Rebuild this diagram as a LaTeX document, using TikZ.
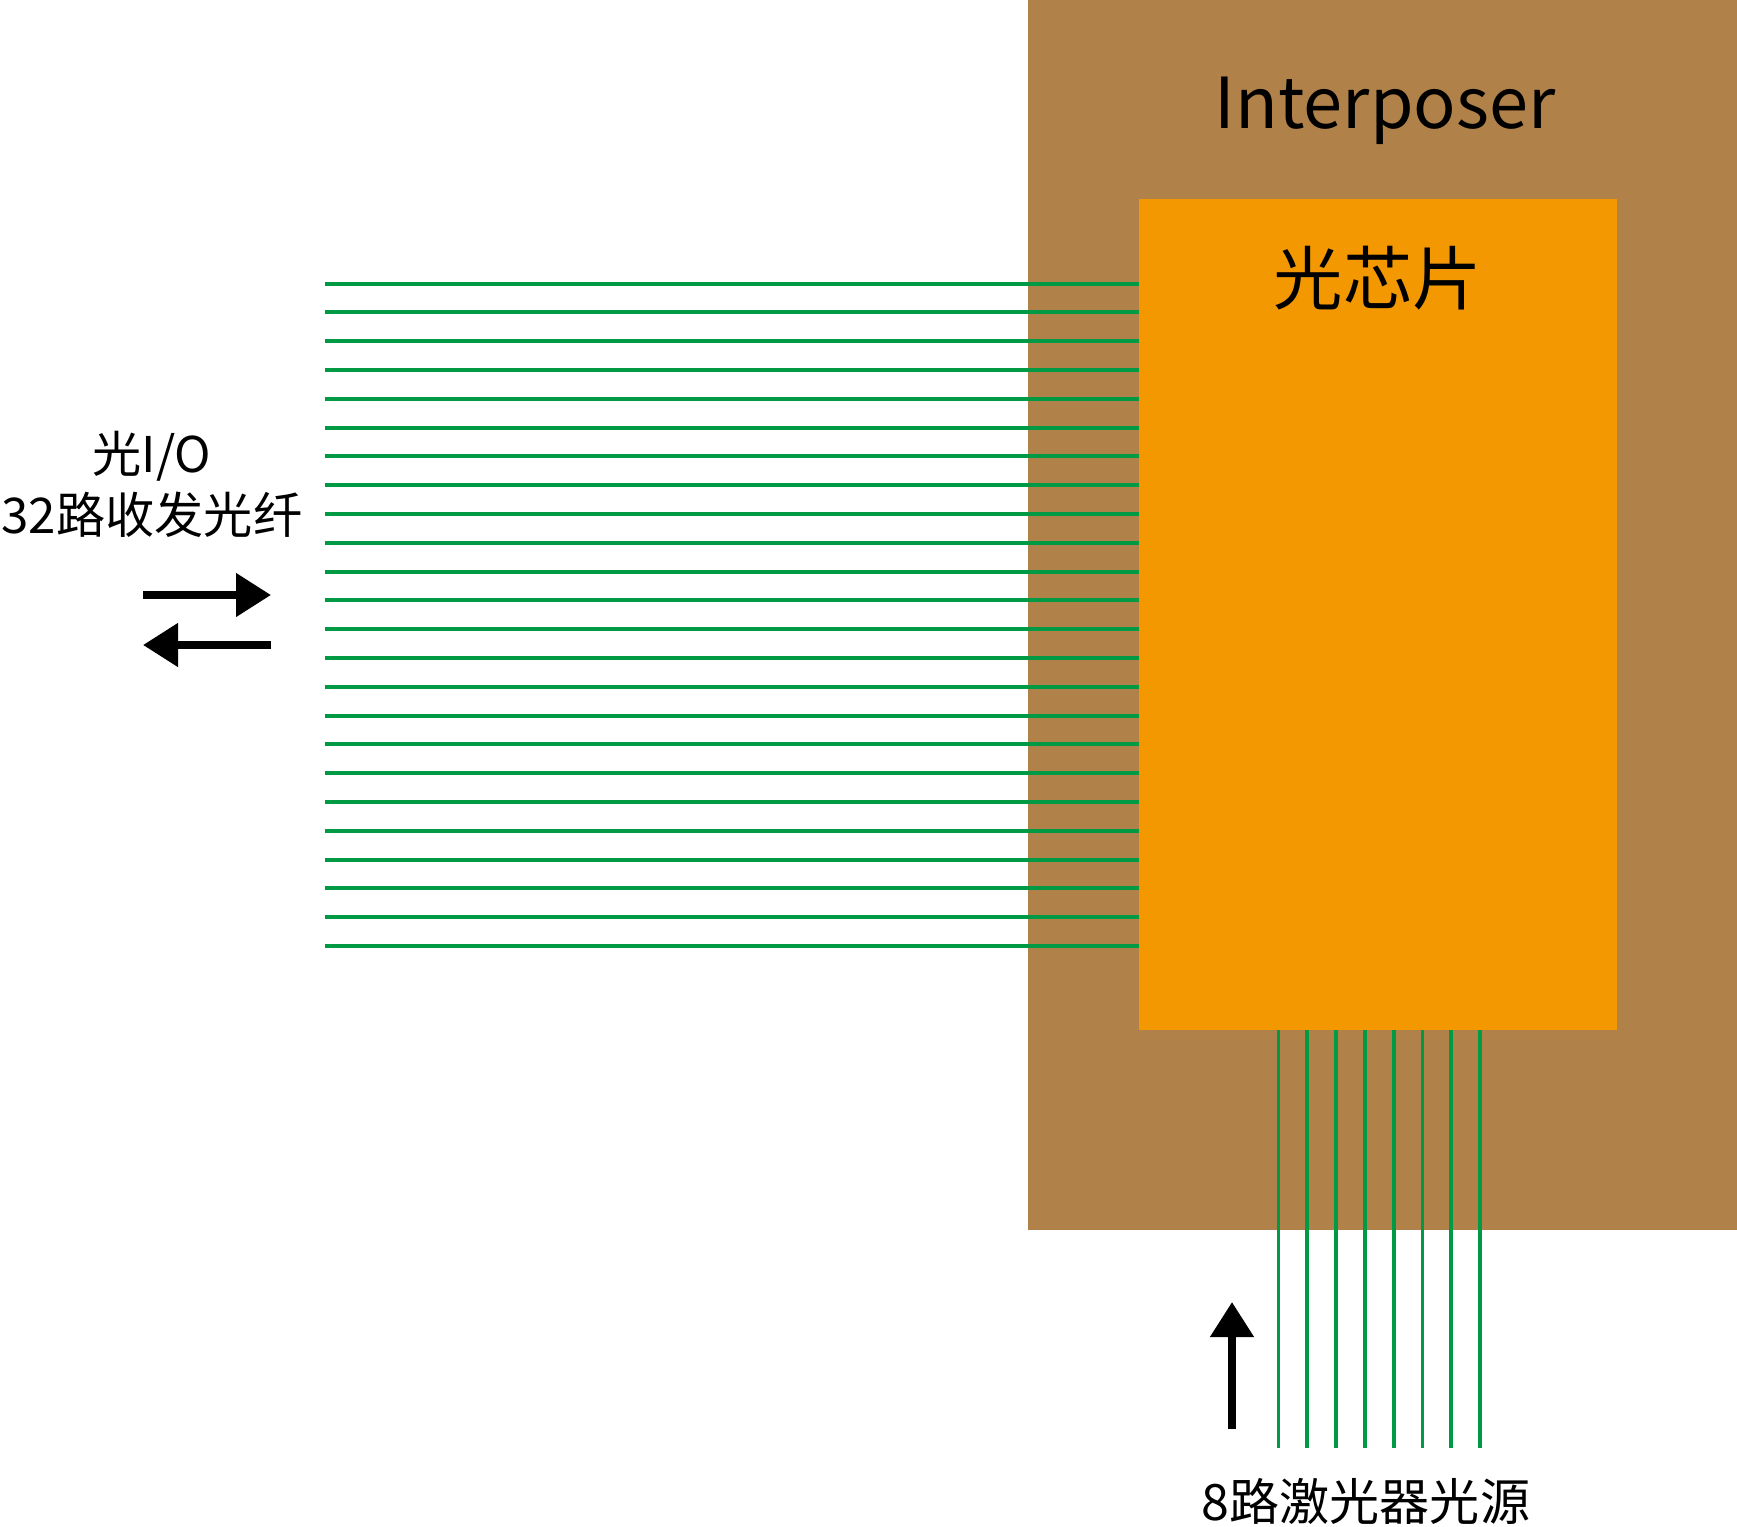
\documentclass[tikz,border=0pt]{standalone}
\usepackage{fontspec}
\setmainfont{Noto Sans CJK SC}
\usepackage{tikz}
\usetikzlibrary{arrows.meta,calc,positioning}
\definecolor{InterBrown}{HTML}{B08149}
\definecolor{ChipOrange}{HTML}{F39800}
\definecolor{FiberGreen}{HTML}{009944}
\definecolor{Ink}{HTML}{000000}

\begin{document}
\begin{tikzpicture}[x=0.2mm,y=-0.2mm,
    fiber/.style={draw=FiberGreen,line width=2.2pt},
    bigarrow/.style={draw=Ink,line width=1.55mm,-{Triangle[length=7mm,width=8.4mm]}},
    label/.style={font=\fontsize{28.5}{35}\selectfont,inner sep=0pt,align=center}]
    \useasboundingbox (0,0) rectangle (1737,1526);
    \node[fill=InterBrown,inner sep=0pt,minimum width=141.8mm,minimum height=246mm] (interposer) at (1382.5,615) {};
    \node[fill=ChipOrange,inner sep=0pt,minimum width=95.6mm,minimum height=166.2mm] (chip) at (1378,614.5) {};
    \node[font=\fontsize{40}{48}\selectfont,inner sep=0pt,anchor=base] (intertext) at (1385,128) {Interposer};
    \node[font=\fontsize{39.5}{46}\selectfont,inner sep=0pt] (chiptext) at (1378,278) {光芯片};
    % 32 fibres into the chip
    \foreach \i in {0,...,23} {
      \coordinate (f\i) at (325,283.6+28.8*\i);
      \draw[fiber] (f\i) -- (f\i -| chip.west);
    }
    % 8 laser inputs from below
    \foreach \j in {0,...,7} {
      \coordinate (l\j) at (1278.5+28.8*\j,1448);
      \draw[fiber] (l\j) -- (l\j |- chip.south);
    }
    \node[label,font=\fontsize{28}{35}\selectfont] (iotext) at (152,484.5) {光I/O\\32路收发光纤};
    \coordinate (txa) at (143,595);
    \coordinate (txb) at (271,595);
    \coordinate (rxa) at (271,645);
    \coordinate (rxb) at (143,645);
    \draw[bigarrow] (txa) -- (txb);
    \draw[bigarrow] (rxa) -- (rxb);
    \coordinate (upa) at (1232,1429);
    \coordinate (upb) at (1232,1302);
    \draw[bigarrow] (upa) -- (upb);
    \node[label] (lasertext) at (1366,1501) {8路激光器光源};
  \end{tikzpicture}
\end{document}
